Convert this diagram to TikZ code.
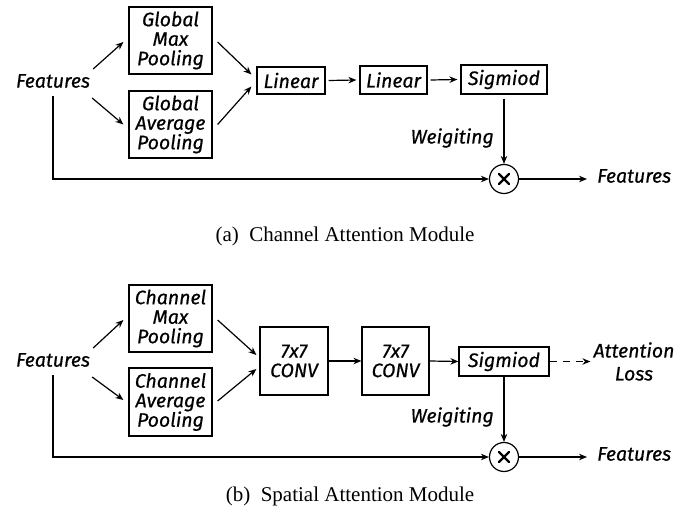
\documentclass[tikz,border=0pt]{standalone}
\usepackage{fontspec}
\setmainfont{Liberation Serif}
\setsansfont{Fira Sans}[ItalicFeatures={FakeBold=0.6}]
\usetikzlibrary{arrows.meta,calc}
\begin{document}
\begin{tikzpicture}[x=1pt,y=-1pt,
  lbl/.style={font=\sffamily\itshape\fontsize{19.5}{20}\selectfont, inner sep=0pt},
  box/.style={draw, line width=1.2pt, align=center, inner sep=0pt,
    font=\sffamily\itshape\fontsize{19.5}{19.5}\selectfont},
  arr/.style={line width=1.2pt, -{Stealth[length=8pt,width=6.5pt]}},
  mulcirc/.style={draw, circle, line width=1.2pt, minimum size=29pt, inner sep=0pt,
    path picture={\draw[line width=2.4pt, line cap=round]
      ([shift={(-5pt,-5pt)}]path picture bounding box.center) -- ([shift={(5pt,5pt)}]path picture bounding box.center)
      ([shift={(-5pt,5pt)}]path picture bounding box.center) -- ([shift={(5pt,-5pt)}]path picture bounding box.center);}},
  captext/.style={font=\rmfamily\fontsize{21}{23}\selectfont, inner sep=0pt}]
\useasboundingbox (0,0) rectangle (699,529);
% ---------- (a) ----------
\node[lbl] (featA) at (53,81) {Features};
\node[box, minimum width=83pt, minimum height=67pt] (gmp) at (170.5,40.5) {Global\\Max\\Pooling};
\node[box, minimum width=83pt, minimum height=67pt] (gap) at (170.5,124.5) {Global\\Average\\Pooling};
\node[box, minimum width=68pt, minimum height=27pt] (lin1) at (291,80.5) {Linear};
\node[box, minimum width=67pt, minimum height=28pt] (lin2) at (393.5,80) {Linear};
\node[box, minimum width=86pt, minimum height=29pt] (sigA) at (504,79.5) {Sigmiod};
\node[mulcirc] (mulA) at (504,179) {};
\node[lbl, anchor=east] (wA) at (494,138) {Weigiting};
\node[lbl, anchor=west] (outA) at (597,176) {Features};
\node[captext] (capA) at (345,236) {(a)\ \ Channel Attention Module};

\draw[arr] ([shift={(3,-12)}]featA.east) -- ([shift={(-5,1.5)}]gmp.west);
\draw[arr] ([shift={(2,17)}]featA.east) -- ([shift={(-5,0)}]gap.west);
\draw[arr] ([shift={(5,1.5)}]gmp.east) -- ([shift={(-5,-6)}]lin1.west);
\draw[arr] ([shift={(5,0)}]gap.east) -- ([shift={(-5,6)}]lin1.west);
\draw[arr] ([xshift=3pt]lin1.east) -- ([xshift=-3pt]lin2.west);
\draw[arr] ([xshift=3pt]lin2.east) -- ([xshift=-3pt]sigA.west);
\draw[arr] ([yshift=-4pt]sigA.south) -- (mulA.north);
\draw[arr] ([yshift=-8pt]featA.south) |- (mulA.west);
\draw[arr] (mulA.east) -- ([xshift=-10pt]mulA.east -| outA.west);

% ---------- (b) ----------
\node[lbl] (featB) at (53,360) {Features};
\node[box, minimum width=83pt, minimum height=67pt] (cmp) at (170.5,318.5) {Channel\\Max\\Pooling};
\node[box, minimum width=83pt, minimum height=68pt] (cap2) at (170.5,402) {Channel\\Average\\Pooling};
\node[box, minimum width=68pt, minimum height=68pt] (conv1) at (294,361) {7x7\\CONV};
\node[box, minimum width=67pt, minimum height=68pt] (conv2) at (395.5,361) {7x7\\CONV};
\node[box, minimum width=90pt, minimum height=29pt] (sigB) at (504,361.5) {Sigmiod};
\node[lbl, align=center, font=\sffamily\itshape\fontsize{19.5}{23}\selectfont] (loss) at (634,361.5) {Attention\\Loss};
\node[mulcirc] (mulB) at (504,457) {};
\node[lbl, anchor=east] (wB) at (494,417) {Weigiting};
\node[lbl, anchor=west] (outB) at (597,454) {Features};
\node[captext] (capB) at (350,496) {(b)\ \ Spatial Attention Module};

\draw[arr] ([shift={(3,-12)}]featB.east) -- ([shift={(-5,1.5)}]cmp.west);
\draw[arr] ([shift={(2,17)}]featB.east) -- ([shift={(-5,-2)}]cap2.west);
\draw[arr] ([shift={(5,1.5)}]cmp.east) -- ([shift={(-3,-6)}]conv1.west);
\draw[arr] ([shift={(5,-1)}]cap2.east) -- ([shift={(-3,8)}]conv1.west);
\draw[arr] (conv1.east) -- (conv2.west);
\draw[arr] (conv2.east) -- (sigB.west);
\draw[arr, dash pattern=on 7pt off 6pt] (sigB.east) -- ([xshift=-3pt]sigB.east -| loss.west);
\draw[arr] (sigB.south) -- (mulB.north);
\draw[arr] ([yshift=-8pt]featB.south) |- (mulB.west);
\draw[arr] (mulB.east) -- ([xshift=-10pt]mulB.east -| outB.west);
\end{tikzpicture}
\end{document}
